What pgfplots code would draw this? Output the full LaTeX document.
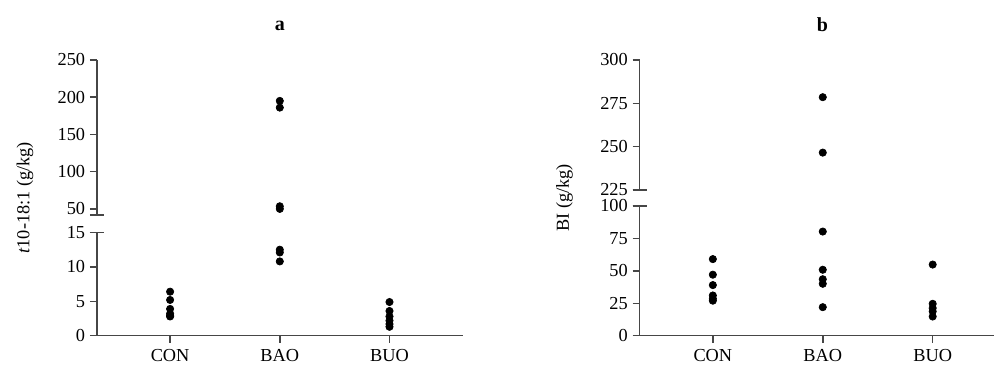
\documentclass[border=0pt]{standalone}
\usepackage{pgfplots}
\pgfplotsset{compat=1.18}
\usepackage{fontspec}
\setmainfont{Liberation Serif}
\definecolor{axc}{RGB}{70,70,70}
\pgfplotsset{
  brk/.style={
    scale only axis, clip=false,
    axis line style={draw=axc, line width=0.9pt},
    every tick/.style={draw=axc, line width=0.9pt},
    major tick length=4.2pt, tick align=outside,
    /pgf/number format/assume math mode=true,
    tick label style={font=\fontsize{11}{12}\selectfont, text=black},
    yticklabel style={xshift=1pt},
    minor tick num=0,
  },
  dots/.style={only marks, mark=*, mark size=2.2pt, black},
}
\pgfplotstableread{
x y
0 6.4
0 5.2
0 3.9
0 3.2
0 2.9
0 2.8
1 12.5
1 12.1
1 10.8
2 4.9
2 3.6
2 2.8
2 2.2
2 1.7
2 1.3
}\alow
\pgfplotstableread{
x y
1 195
1 186
1 53.5
1 50
}\ahigh
\pgfplotstableread{
x y
0 59
0 47
0 39
0 31
0 28.5
0 27
1 80.2
1 50.8
1 43.5
1 40
1 22
2 54.8
2 24.6
2 21.3
2 18.7
2 14.8
}\blow
\pgfplotstableread{
x y
1 278.5
1 246.5
}\bhigh
\begin{document}
\fontsize{11}{12}\selectfont
\begin{tikzpicture}
\path (0,0) rectangle (597pt,219pt);
% panel a lower
\begin{axis}[brk, at={(58.2pt,17.4pt)}, anchor=south west,
  width=219.6pt, height=62pt,
  xmin=-0.667, xmax=2.667, ymin=0, ymax=15,
  axis x line*=bottom, axis y line*=left,
  xtick={0,1,2}, xticklabels={CON,BAO,BUO},
  ytick={0,5,10,15}]
\addplot[dots] table[x=x,y=y] {\alow};
\draw[axc, line width=0.9pt] ([xshift=-4.2pt]rel axis cs:0,1) -- ([xshift=4.2pt]rel axis cs:0,1);
\end{axis}
% panel a upper
\begin{axis}[brk, at={(58.2pt,90pt)}, anchor=south west,
  width=219.6pt, height=93pt,
  xmin=-0.667, xmax=2.667, ymin=42, ymax=250,
  axis x line=none, axis y line*=left,
  ytick={50,100,150,200,250}]
\addplot[dots] table[x=x,y=y] {\ahigh};
\draw[axc, line width=0.9pt] ([xshift=-4.2pt]rel axis cs:0,0) -- ([xshift=4.2pt]rel axis cs:0,0);
\end{axis}
% panel b lower
\begin{axis}[brk, at={(384pt,17.4pt)}, anchor=south west,
  width=213pt, height=78pt,
  xmin=-0.667, xmax=2.56, ymin=0, ymax=100,
  axis x line*=bottom, axis y line*=left,
  xtick={0,1,2}, xticklabels={CON,BAO,BUO},
  ytick={0,25,50,75,100}]
\addplot[dots] table[x=x,y=y] {\blow};
\draw[axc, line width=0.9pt] ([xshift=-4.2pt]rel axis cs:0,1) -- ([xshift=4.2pt]rel axis cs:0,1);
\end{axis}
% panel b upper
\begin{axis}[brk, at={(384pt,105pt)}, anchor=south west,
  width=213pt, height=78pt,
  xmin=-0.667, xmax=2.56, ymin=225, ymax=300,
  axis x line=none, axis y line*=left,
  ytick={225,250,275,300}]
\addplot[dots] table[x=x,y=y] {\bhigh};
\draw[axc, line width=0.9pt] ([xshift=-4.2pt]rel axis cs:0,0) -- ([xshift=4.2pt]rel axis cs:0,0);
\end{axis}
\node[font=\bfseries\fontsize{12}{13}\selectfont] at (168pt,203.4pt) {a};
\node[font=\bfseries\fontsize{12}{13}\selectfont] at (493.8pt,204pt) {b};
\node[rotate=90] at (15pt,100.2pt) {\textit{t}10-18:1 (g/kg)};
\node[rotate=90] at (339pt,100.2pt) {BI (g/kg)};
\end{tikzpicture}
\end{document}
